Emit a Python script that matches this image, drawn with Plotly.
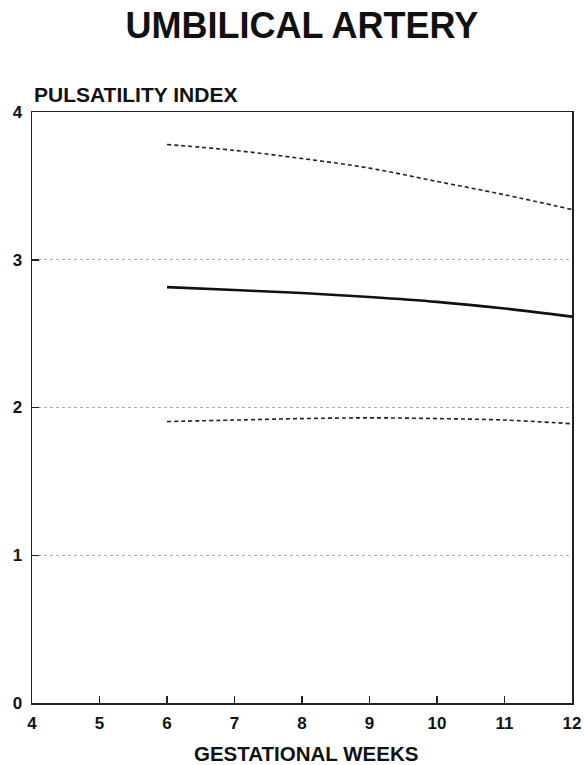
import plotly.graph_objects as go

weeks = [6, 7, 8, 9, 10, 11, 12]
upper = [3.78, 3.74, 3.685, 3.62, 3.53, 3.44, 3.34]
median = [2.815, 2.795, 2.775, 2.748, 2.715, 2.67, 2.615]
lower = [1.905, 1.915, 1.925, 1.93, 1.925, 1.915, 1.89]
x_ticks = [4, 5, 6, 7, 8, 9, 10, 11, 12]
y_ticks = [0, 1, 2, 3, 4]

font = "Liberation Sans, Arial, sans-serif"

fig = go.Figure()
fig.add_trace(go.Scatter(x=weeks, y=upper, mode="lines", line=dict(color="#222", width=1.6, dash="4px,3px", shape="spline"), hoverinfo="skip"))
fig.add_trace(go.Scatter(x=weeks, y=median, mode="lines", line=dict(color="#111", width=2.6, shape="spline"), hoverinfo="skip"))
fig.add_trace(go.Scatter(x=weeks, y=lower, mode="lines", line=dict(color="#222", width=1.6, dash="4px,3px", shape="spline"), hoverinfo="skip"))

fig.update_layout(
    width=584, height=765,
    margin=dict(l=32, r=12, t=112, b=62, autoexpand=False),
    paper_bgcolor="white", plot_bgcolor="white",
    showlegend=False,
    font=dict(family=font, color="#111"),
    title=dict(text="<b>UMBILICAL ARTERY</b>", x=0.517, xanchor="center", y=0.967, yanchor="middle",
               font=dict(size=36, family=font, color="#111")),
    xaxis=dict(range=[4, 12], tickvals=x_ticks, ticktext=[f"<b>{v}</b>" for v in x_ticks],
               automargin=False,
               showgrid=False, zeroline=False, showline=True, linecolor="#222", linewidth=1.5,
               mirror=True, ticks="inside", ticklen=7, tickcolor="#222", tickwidth=1.5,
               ticklabelstandoff=4,
               tickfont=dict(size=17, family=font, color="#111")),
    yaxis=dict(range=[0, 4], tickvals=y_ticks, ticktext=[f"<b>{v}</b>" for v in y_ticks],
               automargin=False,
               showgrid=True, gridcolor="#aaa", griddash="dot", gridwidth=1,
               zeroline=False, showline=True, linecolor="#222", linewidth=1.5,
               mirror=True, ticks="inside", ticklen=7, tickcolor="#222", tickwidth=1.5,
               ticklabelstandoff=5,
               tickfont=dict(size=17, family=font, color="#111")),
    annotations=[
        dict(text="<b>PULSATILITY INDEX</b>", xref="paper", yref="paper", x=0, y=1, xanchor="left", yanchor="middle",
             yshift=18, showarrow=False, font=dict(size=21, family=font, color="#111")),
        dict(text="<b>GESTATIONAL WEEKS</b>", xref="paper", yref="paper", x=0.507, y=0, xanchor="center", yanchor="middle",
             yshift=-50, showarrow=False, font=dict(size=20.5, family=font, color="#111")),
    ],
)

fig.write_html("out.html", config={"displayModeBar": False, "staticPlot": True},
               post_script="document.body.style.margin='0';document.body.style.overflow='hidden';")
